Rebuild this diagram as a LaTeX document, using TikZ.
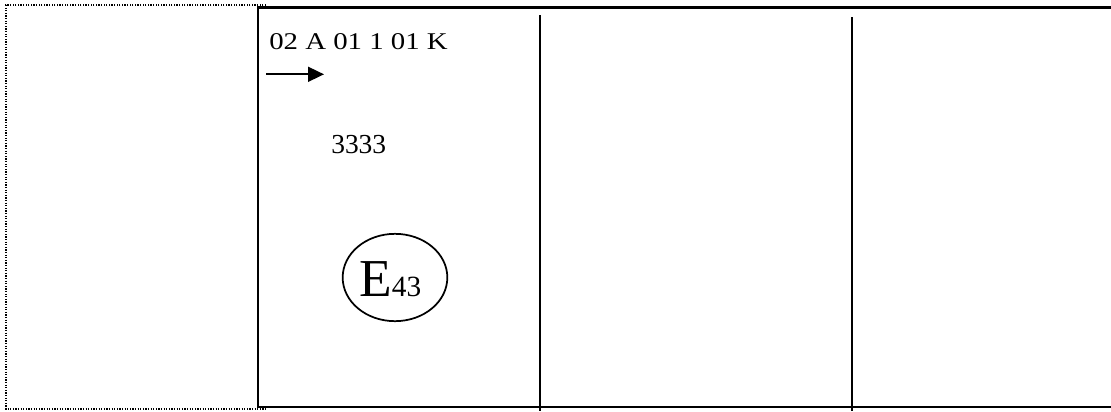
\documentclass[tikz,border=0pt]{standalone}
\usepackage{fontspec}
\setmainfont{Liberation Serif}
\usetikzlibrary{arrows.meta,shapes.geometric}
\newlength{\pxu}
\setlength{\pxu}{0.75pt}
\begin{document}
\begin{tikzpicture}[x=0.75pt,y=-0.75pt,
  frameline/.style={line width=2.4\pxu,black},
  colline/.style={line width=2\pxu,black},
  dotline/.style={line width=1.4\pxu,black,dash pattern=on 1.2\pxu off 1.4\pxu},
  txt/.style={inner sep=0pt,anchor=base west}]
\useasboundingbox (0,0) rectangle (1111,411);
% dotted outer frame
\coordinate (d1) at (266,5);
\coordinate (d2) at (6,5);
\coordinate (d3) at (6,409);
\coordinate (d4) at (267,409);
\draw[dotline] (d1) -- (d2) -- (d3) -- (d4);
% main frame
\coordinate (f1) at (1112,7.5);
\coordinate (f2) at (258,7.5);
\coordinate (f3) at (258,407);
\coordinate (f4) at (1112,407);
\draw[frameline] (f1) -- (f2) -- (f3) -- (f4);
% column separators
\coordinate (c1t) at (540,15);
\coordinate (c1b) at (540,411);
\coordinate (c2t) at (852,17);
\coordinate (c2b) at (852,411);
\draw[colline] (c1t) -- (c1b);
\draw[colline] (c2t) -- (c2b);
% texts
\node[txt] (code) at (269,49) {\scalebox{1.2}[1]{\fontsize{18pt}{20pt}\selectfont 02 A 01 1 01 K}};
\coordinate (a1) at (266,74.3);
\coordinate (a2) at (324,74.3);
\draw[line width=1.3pt,-{Triangle[length=12pt,width=11.25pt]}] (a1) -- (a2);
\node[txt] (num) at (331,153) {\fontsize{20.6pt}{22pt}\selectfont 3333};
\node[draw,ellipse,line width=1.3pt,inner sep=0pt,minimum width=78.5pt,minimum height=65.5pt] (mark) at (395,277.5) {};
\node[txt] (marktext) at (359,296) {\fontsize{40pt}{42pt}\selectfont E\fontsize{22pt}{24pt}\selectfont 43};
\end{tikzpicture}
\end{document}
